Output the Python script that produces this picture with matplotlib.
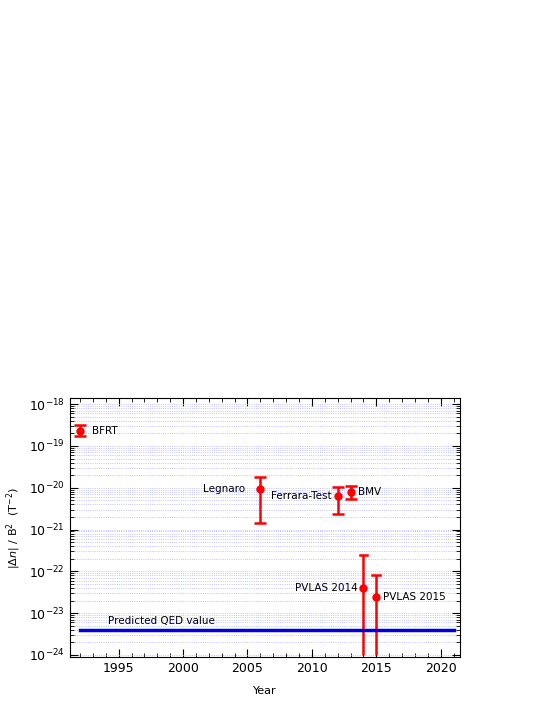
import matplotlib
matplotlib.use("Agg")
import matplotlib.pyplot as plt
import numpy as np

names = ["BFRT", "Legnaro", "Ferrara-Test", "BMV", "PVLAS 2014", "PVLAS 2015"]
years = [1992, 2006, 2012, 2013, 2014, 2015]
values = [2.3e-19, 9.5e-21, 6.2e-21, 8.0e-21, 4.0e-23, 2.5e-23]
lower = [1.7e-19, 1.4e-21, 2.4e-21, 5.3e-21, 1.0e-24, 1.0e-24]
upper = [3.1e-19, 1.8e-20, 1.05e-20, 1.1e-20, 2.5e-22, 8.0e-23]
qed_value = 4.0e-24
qed_years = [1992, 2021]

fig = plt.figure(figsize=(5.45, 7.05), dpi=100)
ax = fig.add_axes([0.128, 0.068, 0.716, 0.367])
ax.set_yscale("log")
ax.set_xlim(1991.2, 2021.5)
ax.set_ylim(10**-24.05, 10**-17.86)

ax.grid(True, which="both", axis="y", color="#b0b0ff", linestyle=":", linewidth=0.6)

v = np.array(values)
yerr = [v - np.array(lower), np.array(upper) - v]
caps = [True, True, True, True, False, False]
for i in range(len(years)):
    ax.errorbar(years[i], values[i], yerr=[[yerr[0][i]], [yerr[1][i]]], fmt="o", color="red",
                ms=5, elinewidth=1.8, capsize=4 if caps[i] else 0, capthick=1.8)
for i in (4, 5):
    ax.plot([years[i]-0.3, years[i]+0.3], [upper[i]]*2, color="red", lw=1.8)

ax.plot(qed_years, [qed_value]*2, color="#0000dd", lw=2.5)
ax.text(1994.2, 5.0e-24, "Predicted QED value", fontsize=7.5, ha="left", va="bottom")

offs = [(0.9, "left"), (-1.2, "right"), (-0.5, "right"), (0.6, "left"), (-0.4, "right"), (0.5, "left")]
for i, n in enumerate(names):
    ax.text(years[i] + offs[i][0], values[i], n, fontsize=7.5, ha=offs[i][1], va="center")

ax.set_xticks([1995, 2000, 2005, 2010, 2015, 2020])
ax.set_xticks(range(1992, 2022), minor=True)
ax.tick_params(which="both", direction="in", top=True, right=True, labelsize=9)
ax.tick_params(which="major", length=6)
ax.tick_params(which="minor", length=3)
ax.set_xlabel("Year", fontsize=8, labelpad=8)
ax.set_ylabel(r"$|\Delta n|\ /\ \mathregular{B}^2\ \ (\mathregular{T}^{-2})$", fontsize=8)
fig.savefig("out.png", dpi=100)
